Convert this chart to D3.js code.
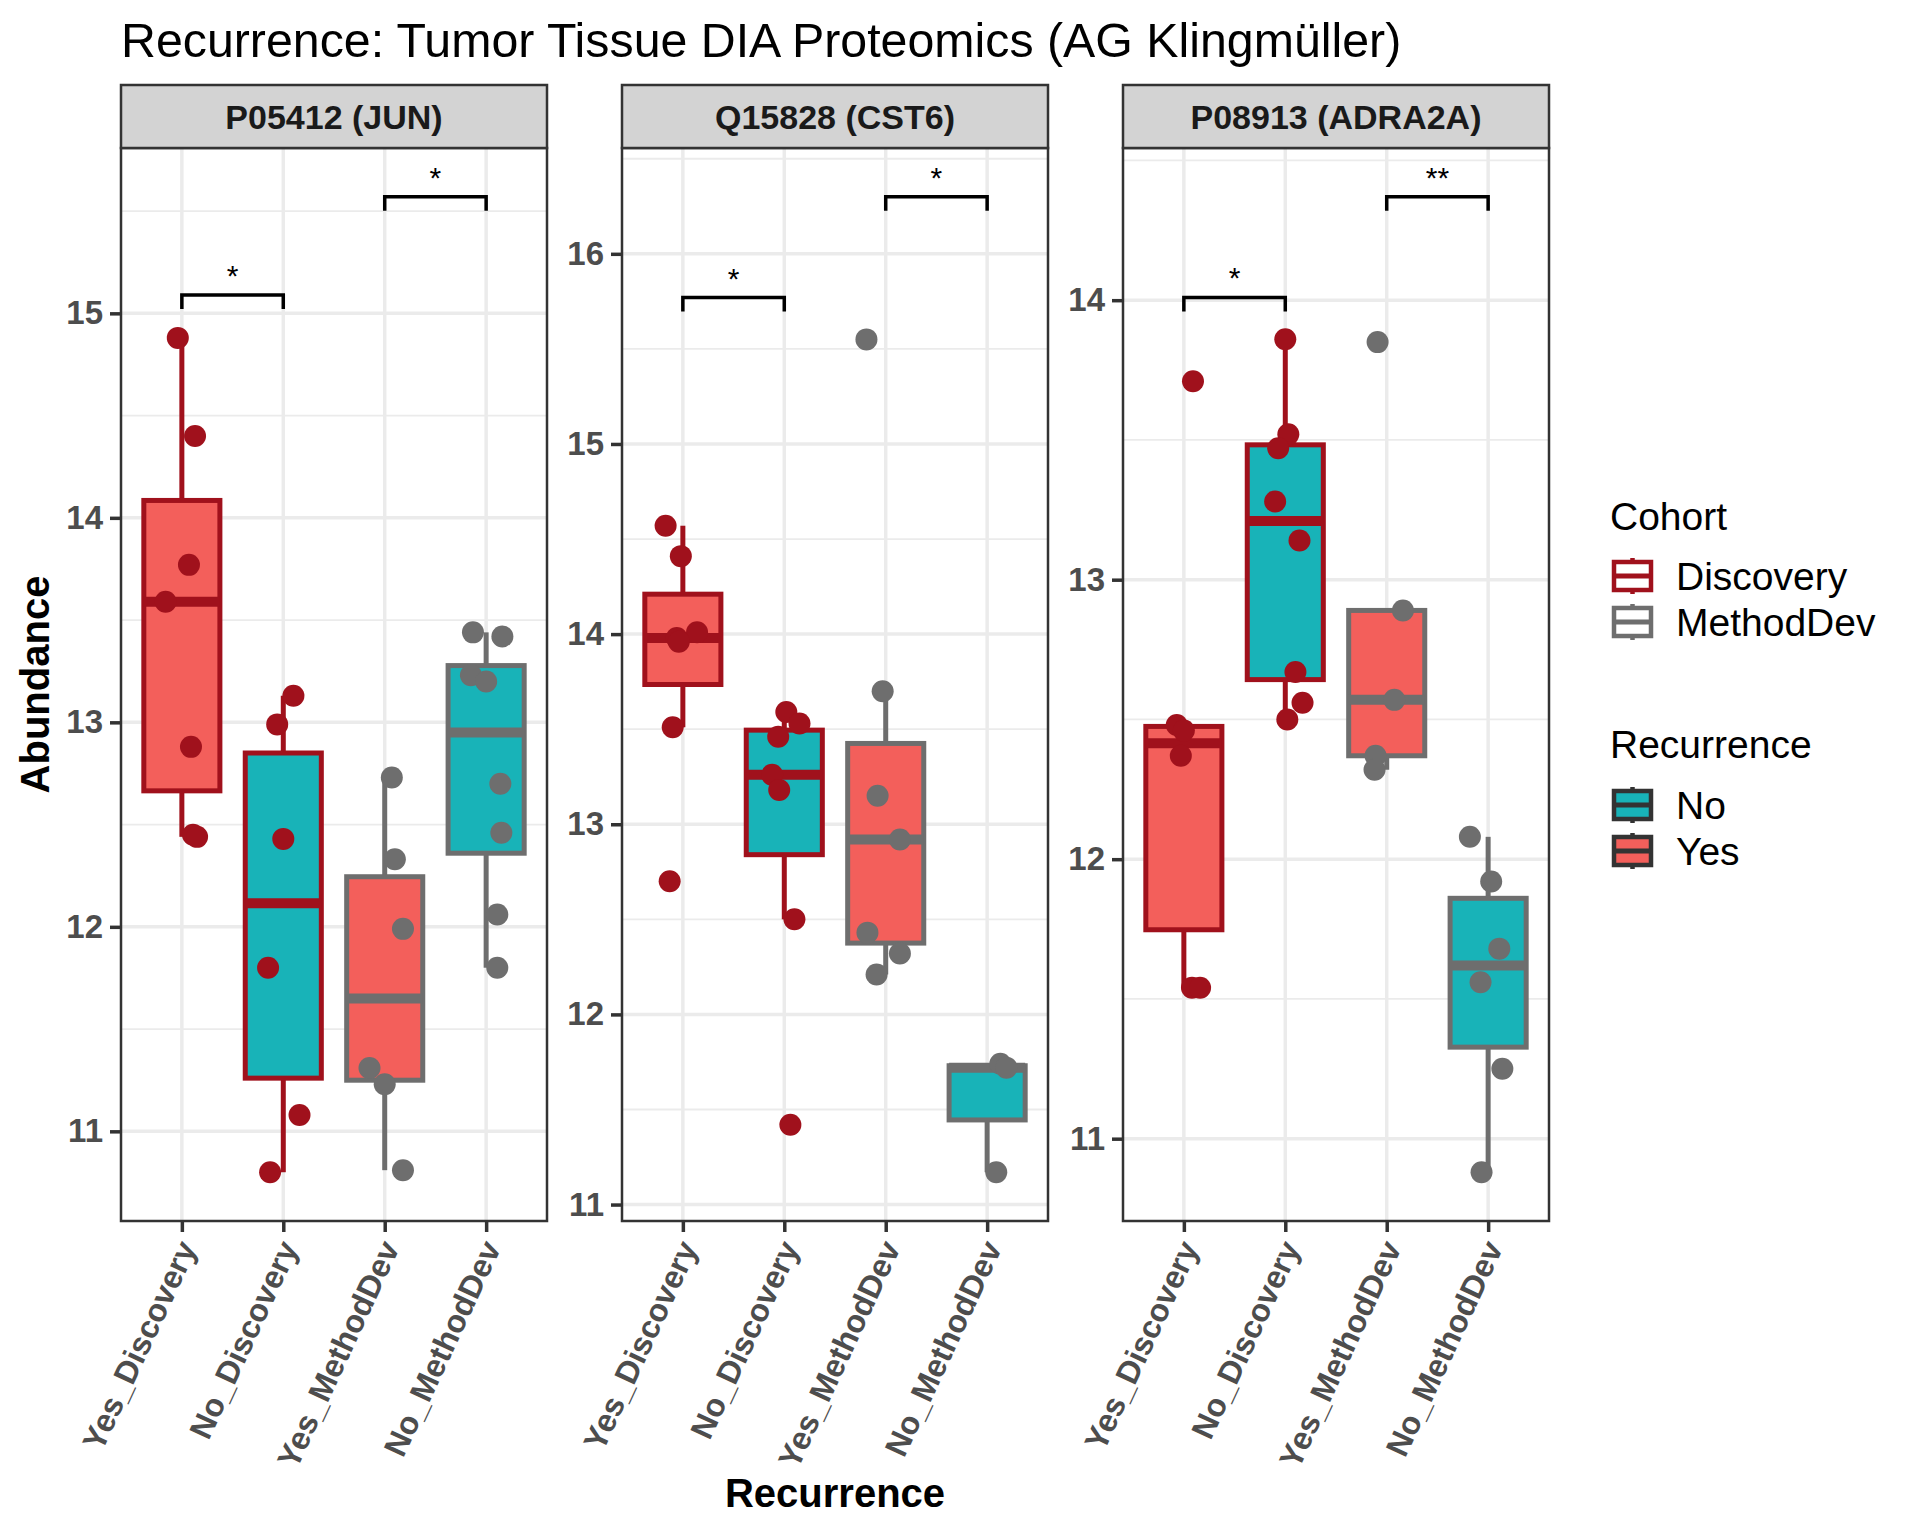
<!DOCTYPE html>
<meta charset="utf-8">
<head>
  <script src="https://d3js.org/d3.v7.min.js"></script>
  <style>
    body { margin: 0; background: #ffffff; }
    svg { font-family: "Liberation Sans", Arial, Helvetica, sans-serif; }
  </style>
</head>
<body>
<div id="my_dataviz"></div>
<script>

// categories on the x axis and facet titles
var categories = ["Yes_Discovery", "No_Discovery", "Yes_MethodDev", "No_MethodDev"];
var recurrence = ["Yes", "No", "Yes", "No"];
var cohort = ["Discovery", "Discovery", "MethodDev", "MethodDev"];
var proteins = ["P05412 (JUN)", "Q15828 (CST6)", "P08913 (ADRA2A)"];

// abundance values, one list per category
var junValues = [
  [14.88, 14.40, 13.77, 13.59, 12.88, 12.45, 12.44],
  [13.13, 12.99, 12.43, 11.80, 11.08, 10.80],
  [12.73, 12.33, 11.99, 11.31, 11.23, 10.81],
  [13.44, 13.42, 13.23, 13.20, 12.70, 12.46, 12.06, 11.80]
];
var cst6Values = [
  [14.57, 14.41, 14.01, 13.98, 13.96, 13.51, 12.70],
  [13.59, 13.53, 13.46, 13.26, 13.18, 12.50, 11.42],
  [15.55, 13.70, 13.15, 12.92, 12.43, 12.32, 12.21],
  [11.74, 11.72, 11.17]
];
var adra2aValues = [
  [13.71, 12.48, 12.46, 12.37, 11.54, 11.54],
  [13.86, 13.52, 13.47, 13.28, 13.14, 12.67, 12.56, 12.50],
  [13.85, 12.89, 12.57, 12.37, 12.32],
  [12.08, 11.92, 11.68, 11.56, 11.25, 10.88]
];

// horizontal jitter of each point, as a fraction of the category step
var junJitter = [
  [-0.04, 0.13, 0.07, -0.16, 0.09, 0.11, 0.15],
  [0.10, -0.06, 0.00, -0.15, 0.16, -0.13],
  [0.07, 0.10, 0.18, -0.15, 0.00, 0.18],
  [-0.13, 0.16, -0.15, 0.00, 0.14, 0.15, 0.11, 0.11]
];
var cst6Jitter = [
  [-0.17, -0.02, 0.14, -0.06, -0.04, -0.10, -0.13],
  [0.02, 0.15, -0.06, -0.12, -0.05, 0.10, 0.06],
  [-0.19, -0.03, -0.08, 0.14, -0.18, 0.14, -0.09],
  [0.13, 0.19, 0.09]
];
var adra2aJitter = [
  [0.09, -0.07, 0.00, -0.03, 0.08, 0.16],
  [0.00, 0.03, -0.07, -0.10, 0.14, 0.10, 0.17, 0.02],
  [-0.09, 0.16, 0.075, -0.11, -0.12],
  [-0.18, 0.03, 0.11, -0.075, 0.14, -0.065]
];

// significance brackets: [from, to, y, label]
var junSignif = [[0, 1, 15.09, "*"], [2, 3, 15.57, "*"]];
var cst6Signif = [[0, 1, 15.77, "*"], [2, 3, 16.30, "*"]];
var adra2aSignif = [[0, 1, 14.01, "*"], [2, 3, 14.37, "**"]];

var allValues = [junValues, cst6Values, adra2aValues];
var allJitter = [junJitter, cst6Jitter, adra2aJitter];
var allSignif = [junSignif, cst6Signif, adra2aSignif];

var fillColor = { "Yes": "#F35F5B", "No": "#18B3B8" };
var lineColor = { "Discovery": "#A0111C", "MethodDev": "#6E6E6E" };

// layout
var width = 1920, height = 1536;
var panelLeft = [121, 622, 1123], panelW = 426;
var stripTop = 85, plotTop = 148, plotBottom = 1221;

var svg = d3.select("#my_dataviz")
  .append("svg")
    .attr("width", width)
    .attr("height", height);

svg.append("rect").attr("width", width).attr("height", height).attr("fill", "white");

svg.append("text")
  .attr("x", 121).attr("y", 57)
  .style("font-size", "48.3px")
  .text("Recurrence: Tumor Tissue DIA Proteomics (AG Klingmüller)");

function boxStats(vals) {
  var s = vals.slice().sort(d3.ascending);
  var q1 = d3.quantile(s, 0.25), med = d3.quantile(s, 0.5), q3 = d3.quantile(s, 0.75);
  var iqr = q3 - q1;
  var lo = d3.min(s.filter(function(v) { return v >= q1 - 1.5 * iqr; }));
  var hi = d3.max(s.filter(function(v) { return v <= q3 + 1.5 * iqr; }));
  return { q1: q1, med: med, q3: q3, lo: lo, hi: hi };
}

proteins.forEach(function(prot, p) {
  var values = allValues[p], jitter = allJitter[p], signif = allSignif[p];
  var g = svg.append("g").attr("transform", "translate(" + panelLeft[p] + ",0)");

  var x = d3.scalePoint().domain(categories).range([0, panelW]).padding(0.6);
  var step = x.step();

  var ext = d3.extent(d3.merge(values).concat(signif.map(function(s) { return s[2]; })));
  var pad = (ext[1] - ext[0]) * 0.05;
  var y = d3.scaleLinear().domain([ext[0] - pad, ext[1] + pad]).range([plotBottom, plotTop]);

  var majors = d3.range(Math.ceil(y.domain()[0]), Math.floor(y.domain()[1]) + 1);
  var minors = d3.range(Math.ceil(y.domain()[0] - 0.5) + 0.5, y.domain()[1], 1)
    .filter(function(v) { return v > y.domain()[0]; });

  // panel grid
  g.append("rect").attr("x", 0).attr("y", plotTop).attr("width", panelW)
    .attr("height", plotBottom - plotTop).attr("fill", "white");
  g.selectAll(".minor").data(minors).enter().append("line")
    .attr("x1", 0).attr("x2", panelW)
    .attr("y1", function(d) { return y(d); }).attr("y2", function(d) { return y(d); })
    .attr("stroke", "#EBEBEB").attr("stroke-width", 1.8);
  g.selectAll(".major").data(majors).enter().append("line")
    .attr("x1", 0).attr("x2", panelW)
    .attr("y1", function(d) { return y(d); }).attr("y2", function(d) { return y(d); })
    .attr("stroke", "#EBEBEB").attr("stroke-width", 3.5);
  g.selectAll(".vmajor").data(categories).enter().append("line")
    .attr("x1", function(d) { return x(d); }).attr("x2", function(d) { return x(d); })
    .attr("y1", plotTop).attr("y2", plotBottom)
    .attr("stroke", "#EBEBEB").attr("stroke-width", 3.5);

  // boxplots
  var bw = step * 0.75;
  categories.forEach(function(cat, i) {
    var st = boxStats(values[i]);
    var cx = x(cat), col = lineColor[cohort[i]];
    g.append("line").attr("x1", cx).attr("x2", cx)
      .attr("y1", y(st.q3)).attr("y2", y(st.hi))
      .attr("stroke", col).attr("stroke-width", 5);
    g.append("line").attr("x1", cx).attr("x2", cx)
      .attr("y1", y(st.q1)).attr("y2", y(st.lo))
      .attr("stroke", col).attr("stroke-width", 5);
    g.append("rect")
      .attr("x", cx - bw / 2).attr("y", y(st.q3))
      .attr("width", bw).attr("height", y(st.q1) - y(st.q3))
      .attr("fill", fillColor[recurrence[i]])
      .attr("stroke", col).attr("stroke-width", 5);
    g.append("line").attr("x1", cx - bw / 2).attr("x2", cx + bw / 2)
      .attr("y1", y(st.med)).attr("y2", y(st.med))
      .attr("stroke", col).attr("stroke-width", 10);
  });

  // jittered points
  categories.forEach(function(cat, i) {
    g.selectAll(".pt" + i).data(values[i]).enter().append("circle")
      .attr("cx", function(d, j) { return x(cat) + jitter[i][j] * step; })
      .attr("cy", function(d) { return y(d); })
      .attr("r", 11)
      .attr("fill", lineColor[cohort[i]]);
  });

  // significance brackets
  signif.forEach(function(s) {
    var x1 = x(categories[s[0]]), x2 = x(categories[s[1]]), yy = y(s[2]);
    g.append("path")
      .attr("d", "M" + x1 + "," + (yy + 14) + "V" + yy + "H" + x2 + "V" + (yy + 14))
      .attr("fill", "none").attr("stroke", "black").attr("stroke-width", 3.5);
    g.append("text")
      .attr("x", (x1 + x2) / 2).attr("y", yy - 9)
      .attr("text-anchor", "middle")
      .style("font-size", "30px")
      .text(s[3]);
  });

  // panel border and strip
  g.append("rect").attr("x", 0).attr("y", plotTop).attr("width", panelW)
    .attr("height", plotBottom - plotTop)
    .attr("fill", "none").attr("stroke", "#333333").attr("stroke-width", 2.5);
  g.append("rect").attr("x", 0).attr("y", stripTop).attr("width", panelW)
    .attr("height", plotTop - stripTop)
    .attr("fill", "#D3D3D3").attr("stroke", "#333333").attr("stroke-width", 2.5);
  g.append("text")
    .attr("x", panelW / 2).attr("y", (stripTop + plotTop) / 2 + 12)
    .attr("text-anchor", "middle")
    .style("font-size", "34px").style("font-weight", "bold").attr("fill", "#1A1A1A")
    .text(prot);

  // y axis
  var yAxis = g.append("g")
    .call(d3.axisLeft(y).tickValues(majors).tickSize(11).tickPadding(7).tickFormat(d3.format("d")));
  yAxis.select(".domain").remove();
  yAxis.selectAll("line").attr("stroke", "#333333").attr("stroke-width", 3.5);
  yAxis.selectAll("text").attr("fill", "#4D4D4D")
    .style("font-size", "33px").style("font-weight", "bold")
    .style("font-family", "'Liberation Sans', Arial, sans-serif");

  // x axis
  var xAxis = g.append("g")
    .attr("transform", "translate(0," + plotBottom + ")")
    .call(d3.axisBottom(x).tickSize(11));
  xAxis.select(".domain").remove();
  xAxis.selectAll("line").attr("stroke", "#333333").attr("stroke-width", 3.5);
  xAxis.selectAll("text")
    .attr("fill", "#4D4D4D")
    .style("font-size", "32px").style("font-weight", "bold")
    .style("font-family", "'Liberation Sans', Arial, sans-serif")
    .attr("text-anchor", "end")
    .attr("x", 0).attr("y", 0).attr("dy", "0.72em")
    .attr("transform", "translate(-6,17) rotate(-65)");
});

// axis titles
svg.append("text")
  .attr("transform", "translate(49," + ((plotTop + plotBottom) / 2) + ") rotate(-90)")
  .attr("text-anchor", "middle")
  .style("font-size", "40px").style("font-weight", "bold")
  .text("Abundance");
svg.append("text")
  .attr("x", (panelLeft[0] + panelLeft[2] + panelW) / 2).attr("y", 1507)
  .attr("text-anchor", "middle")
  .style("font-size", "40px").style("font-weight", "bold")
  .text("Recurrence");

// legends
var legendX = 1610;
var cohortKeys = ["Discovery", "MethodDev"];
var recurrenceKeys = ["No", "Yes"];

function drawKey(cy, stroke, fill) {
  var kx = legendX + 2, kw = 41, top = cy - 14, bot = cy + 14;
  svg.append("line").attr("x1", kx + kw / 2).attr("x2", kx + kw / 2)
    .attr("y1", cy - 18).attr("y2", cy + 18)
    .attr("stroke", stroke).attr("stroke-width", 4.5);
  svg.append("rect").attr("x", kx + 2).attr("y", top)
    .attr("width", kw - 4).attr("height", bot - top)
    .attr("fill", fill).attr("stroke", stroke).attr("stroke-width", 4.5);
  svg.append("line").attr("x1", kx + 2).attr("x2", kx + kw - 2)
    .attr("y1", cy).attr("y2", cy)
    .attr("stroke", stroke).attr("stroke-width", 5);
}

svg.append("text").attr("x", legendX).attr("y", 530)
  .style("font-size", "39px").text("Cohort");
cohortKeys.forEach(function(k, i) {
  var cy = 576 + i * 46;
  drawKey(cy, lineColor[k], "white");
  svg.append("text").attr("x", 1676).attr("y", cy + 14)
    .style("font-size", "39px").text(k);
});

svg.append("text").attr("x", legendX).attr("y", 758)
  .style("font-size", "39px").text("Recurrence");
recurrenceKeys.forEach(function(k, i) {
  var cy = 805 + i * 46;
  drawKey(cy, "#333333", fillColor[k]);
  svg.append("text").attr("x", 1676).attr("y", cy + 14)
    .style("font-size", "39px").text(k);
});

</script>
</body>
